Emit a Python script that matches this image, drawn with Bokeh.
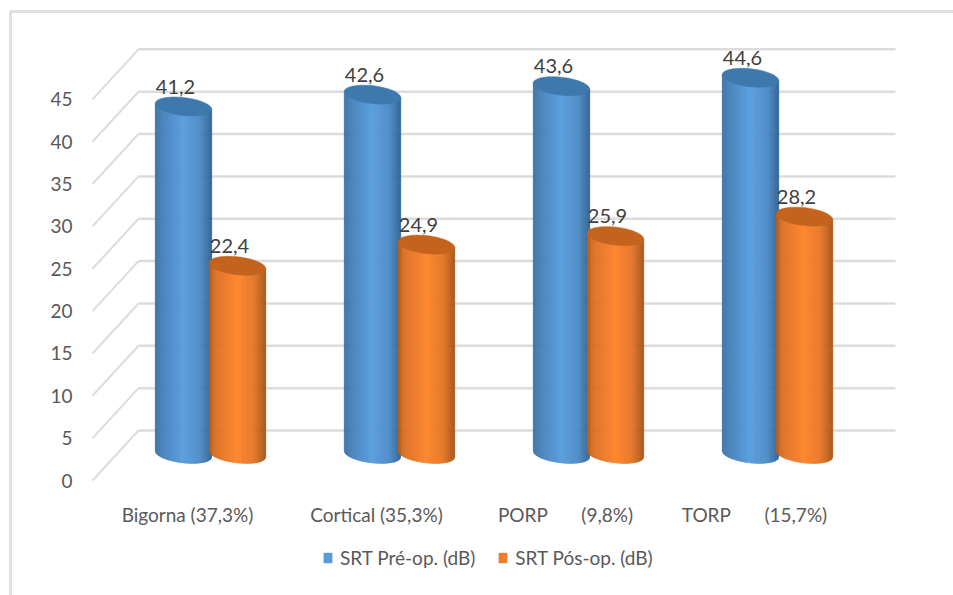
import numpy as np
from bokeh.embed import file_html
from bokeh.resources import INLINE
from bokeh.plotting import figure
from bokeh.models import (ColumnDataSource, FixedTicker, Legend, LegendItem, Range1d)
from bokeh.core.properties import value

# Data
NB = "\u00a0"
categories = ["Bigorna (37,3%)", "Cortical (35,3%)", "PORP" + NB * 7 + "(9,8%)", "TORP" + NB * 7 + "(15,7%)"]
srt_pre = [41.2, 42.6, 43.6, 44.6]
srt_post = [22.4, 24.9, 25.9, 28.2]
y_ticks = list(range(0, 50, 5))
series_names = ["SRT Pré-op. (dB)", "SRT Pós-op. (dB)"]

# Scale of the drawing: pixels per category and per dB
PX_X = 189.0
PX_Y = 8.47
LEFT, BOTTOM, W, H = 92, 480, 953, 595
X0 = 187.0

# Oblique projection of the chart box
DEPTH_X = 46 / PX_X
DEPTH_Y = 50 / PX_Y
BACK_END = (895 - X0) / PX_X

FONT = "Lato"
FONT_SIZE = "19px"
GRID = "#dcdcdc"

p = figure(width=W, height=H, output_backend="svg", toolbar_location=None,
           x_range=Range1d(-X0 / PX_X, (W - X0) / PX_X),
           y_range=Range1d((BOTTOM - H) / PX_Y, BOTTOM / PX_Y),
           min_border=0)
p.outline_line_color = None
p.background_fill_color = "white"
p.border_fill_color = "white"
p.xgrid.visible = False
p.ygrid.visible = False

xl = (LEFT - X0) / PX_X

for ax in (p.xaxis[0], p.yaxis[0]):
    ax.axis_line_color = None
    ax.major_tick_line_color = None
    ax.minor_tick_line_color = None
    ax.major_label_text_color = "#595959"
    ax.major_label_text_font = FONT
    ax.major_label_text_font_size = FONT_SIZE

p.yaxis[0].ticker = FixedTicker(ticks=y_ticks)
p.yaxis[0].fixed_location = xl
p.yaxis[0].major_label_standoff = 14
p.xaxis[0].ticker = FixedTicker(ticks=list(range(len(categories))))
p.xaxis[0].major_label_overrides = {i: c for i, c in enumerate(categories)}
p.xaxis[0].fixed_location = 0
p.xaxis[0].major_label_standoff = 16

# Outer chart border
frame_l = (10 - X0) / PX_X
frame_t = (BOTTOM - 11) / PX_Y
p.line([frame_l, frame_l, p.x_range.end], [p.y_range.start, frame_t, frame_t],
       line_color="#e0e0e0", line_width=3)

# Floor, side wall and back wall rules
ticks = np.array(y_ticks, dtype=float)
p.segment(x0=[xl] * len(ticks), y0=ticks, x1=[xl + DEPTH_X] * len(ticks), y1=ticks + DEPTH_Y,
          line_color=GRID, line_width=2)
p.segment(x0=[xl + DEPTH_X] * len(ticks), y0=ticks + DEPTH_Y, x1=[BACK_END] * len(ticks),
          y1=ticks + DEPTH_Y, line_color=GRID, line_width=2.5)


def lerp_colors(stops, n):
    pos = [s[0] for s in stops]
    rgb = np.array([s[1] for s in stops], dtype=float)
    u = np.linspace(0, 1, n)
    cols = np.stack([np.interp(u, pos, rgb[:, i]) for i in range(3)], axis=1).astype(int)
    return ["#%02x%02x%02x" % tuple(c) for c in cols]


BLUE = [(0, (58, 112, 165)), (0.12, (68, 128, 186)), (0.5, (94, 162, 224)),
        (0.8, (78, 140, 200)), (1, (46, 98, 148))]
ORANGE = [(0, (190, 95, 25)), (0.12, (222, 112, 36)), (0.5, (255, 138, 50)),
          (0.8, (230, 118, 40)), (1, (168, 84, 20))]
BLUE_TOP = "#3f78ad"
ORANGE_TOP = "#c4631d"

RX = 28.3 / PX_X        # half width of a cylinder, in categories
RY = 9.0 / PX_Y         # half height of its end cap, in dB
TILT = 3.0 / PX_Y / RX  # caps lean upward to the right
N = 57
BASE_LIFT = 1.5 / PX_Y


def draw_cylinder(cx, val, stops, top_color):
    yb = DEPTH_Y / 2 + BASE_LIFT
    yt = val + DEPTH_Y / 2
    edges = np.linspace(-1, 1, N + 1)
    xs, ys = [], []
    for a, b in zip(edges[:-1], edges[1:]):
        ya, yc = -RY * np.sqrt(1 - a * a) - TILT * RX * a, -RY * np.sqrt(1 - b * b) - TILT * RX * b
        yat, yct = -TILT * RX * a, -TILT * RX * b
        xs.append(list(cx + RX * np.array([a, b, b, a])))
        ys.append([yb + ya, yb + yc, yt + yct, yt + yat])
    cols = lerp_colors(stops, N)
    p.patches(xs, ys, fill_color=cols, line_color=cols, line_width=0.4)
    t = np.linspace(0, 2 * np.pi, 80)
    p.patch(cx + RX * np.cos(t),
            yt + RY * np.sin(t) - TILT * RX * np.cos(t),
            fill_color=top_color, line_color=top_color, line_width=0.5)


centers_x = np.arange(len(categories)) + DEPTH_X / 2
OFFSET = 27 / PX_X
for i in range(len(categories)):
    draw_cylinder(centers_x[i] - OFFSET, srt_pre[i], BLUE, BLUE_TOP)
    draw_cylinder(centers_x[i] + OFFSET, srt_post[i], ORANGE, ORANGE_TOP)

# Value labels above each cap
all_vals = srt_pre + srt_post
label_x = list(centers_x - OFFSET) + list(centers_x + OFFSET)
src = ColumnDataSource(dict(x=label_x, y=[v + DEPTH_Y / 2 for v in all_vals],
                            t=[f"{v:.1f}".replace(".", ",") for v in all_vals]))
p.text(x="x", y="y", text="t", source=src, text_font=value(FONT), text_font_size="20px",
       text_color="#404040", text_align="center", text_baseline="middle",
       x_offset=-8, y_offset=-20)

# Legend swatches come from off-scale renderers carrying the series colours
nan = float("nan")
r_pre = p.quad(left=[nan], right=[nan], top=[nan], bottom=[nan], fill_color="#5b9bd5", line_color=None)
r_post = p.quad(left=[nan], right=[nan], top=[nan], bottom=[nan], fill_color="#ed7d31", line_color=None)
legend = Legend(items=[LegendItem(label=series_names[0], renderers=[r_pre]),
                       LegendItem(label=series_names[1], renderers=[r_post])],
                orientation="horizontal", location=(322, 26), padding=0, margin=0,
                spacing=22, glyph_width=11, glyph_height=13, label_standoff=7,
                border_line_color=None, background_fill_alpha=0,
                label_text_font=FONT, label_text_font_size=FONT_SIZE, label_text_color="#595959")
p.add_layout(legend)

open("out.html", "w").write(file_html(p, INLINE))
